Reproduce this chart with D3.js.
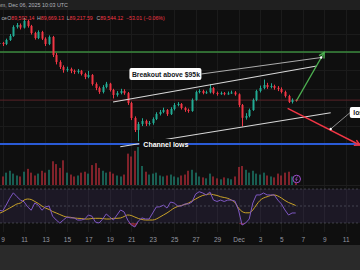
<!DOCTYPE html>
<html><head><meta charset="utf-8">
<script src="https://cdn.jsdelivr.net/npm/d3@7"></script>
<style>html,body{margin:0;padding:0;background:#0f0f0f;overflow:hidden}svg{display:block}</style>
</head><body><svg id="c" width="360" height="270"></svg>
<script>
// ---------- DATA ----------
const startTime = "2025-11-08T16:00:00Z";   // first candle
const stepHours = 8;                          // candle interval
const firstOpen = 101800;
const closes = [101950,101740,102610,103480,105440,105870,105300,106740,105650,104130,
 103040,104350,102900,101740,103260,99350,97830,96740,96090,96300,
 95870,95650,95900,95220,94570,95000,93040,92170,91300,92390,
 93100,91740,90650,91090,91520,91050,88910,85650,83040,84350,
 85000,84400,84570,85430,86520,86960,87390,86500,87610,88480,
 88700,87830,87400,87170,89570,91300,91520,91090,91250,92170,
 91100,90870,91050,90900,91000,91200,90800,88480,85700,86090,
 87390,89570,91520,92170,92830,92390,92610,92200,91960,91300,
 90440,89130,89600,89544];
const highs = [102300,102200,102900,103900,105800,106300,106200,107400,107000,105900,
 104400,104700,104600,103200,103600,103500,99800,98200,97100,96800,
 96600,96200,96300,96100,95500,95900,95200,93400,92500,92800,
 93500,93300,92000,91500,92000,91900,91300,89200,86000,84800,
 85600,85300,85000,85800,86900,87400,87900,87600,88000,88900,
 89100,88900,88100,87700,89900,91600,91900,91800,91600,93000,
 92400,91400,91400,91300,91400,91600,91500,91000,88700,86700,
 87700,89900,91800,92700,94000,93300,93200,92900,92600,92300,
 91600,90700,89900,89669];
const lows = [101400,101300,101500,102400,103300,105100,104900,105100,105300,103800,
 102700,102800,102600,101300,101500,98900,97300,96300,95500,95700,
 95400,95200,95300,94900,94100,94300,92700,91700,90900,91000,
 92100,91400,89900,90300,90800,90700,88500,85200,82600,80600,
 83900,83900,84000,84200,85200,86200,86700,86100,86300,87300,
 88200,87500,87000,86800,87000,89400,91000,90800,90900,91000,
 90800,90500,90700,90600,90700,90900,90500,88000,83800,85300,
 85800,87200,89300,91200,91900,92000,92100,91800,91500,91000,
 90100,88900,88800,89217];
const volumes = [1100,900,1300,1500,1200,1000,900,1400,1700,1300,
 1000,1200,1500,1300,1600,2500,2200,1800,2600,1300,
 1100,900,1000,1300,1400,1200,2100,2300,1800,1500,
 1300,1400,1200,1000,900,1100,3300,3000,3600,4000,
 2000,1400,1100,1200,1300,1000,900,1000,1100,900,
 800,1000,1100,1500,1600,1300,900,800,700,1200,
 900,700,600,800,700,600,900,1900,2000,1600,
 1300,1500,1200,1100,1300,1000,900,800,1200,1000,
 1300,1400,900,500];
const rsiValues = [45.3,44,51,59,65.5,61,57,55,49,45, 53.5,51,45,49,50,38,33.5,30,33.5,37,
 36,36,33.5,33.5,34.7,39.4,38,31,30,34.7, 40.6,37,33.5,39.4,45.3,43,33.5,27.6,25.3,32.4,
 36,34.7,34.7,41.8,48.8,49,51,47.6,54.7,53.5, 50,50,52.4,52.4,54.7,64,66.8,65.3,63,66.5,
 57,55.3,57,55.3,57,57,55.9,45.3,27.6,30, 34.7,53.5,63,63,65.3,63,63,63,57,52.4,
 45.3,39.4,41.8,41.8];
const rsiMA = [41.2,43,45.3,47.6,50,52.4,53.5,57,58.2,57.6, 55.3,53,50,47.6,45.9,43.5,41.8,40,38.2,37,
 36.7,35.9,35.5,35.3,34.7,34.7,35.3,35.5,35.5,35.3, 34.7,34.7,35.5,35.5,35.9,37.6,39.4,38.8,37,35.3,
 34.1,33.5,33.5,33.5,34.7,37,39.4,41.8,44.7,47.6, 49.4,50.6,51.8,53.5,55.9,58.2,60.6,62.4,63.5,64.1,
 63.3,62.4,60.9,60,59,57,54.1,47.6,43.5,42, 42,45.3,51.2,56.5,59.4,60.9,62.4,63,61.8,59.4,
 56.5,54.1,52.4,50.6];
const tickDates = ["2025-11-09","2025-11-11","2025-11-13","2025-11-15","2025-11-17","2025-11-19","2025-11-21",
 "2025-11-23","2025-11-25","2025-11-27","2025-11-29","2025-12-01","2025-12-03","2025-12-05","2025-12-07","2025-12-09","2025-12-11"];
const tickLabels = ["9","11","13","15","17","19","21","23","25","27","29","Dec","3","5","7","9","11"];
const gridPrices = [84000,88000,92000,96000,100000,104000];
const resistanceLevel = 100000;
const lastPrice = 89544.12;
const supportLevel = 80000;
const channelUpper = [["2025-11-19T07:10:00Z",89130],["2025-12-08T07:00:00Z",96960]];
const channelLower = [["2025-11-19T23:20:00Z",79410],["2025-12-09T14:20:00Z",86800]];
const bullArrow = [["2025-12-06T10:05:00Z",89460],["2025-12-08T23:45:00Z",99890]];
const bearArrow = [["2025-12-05T14:00:00Z",87760],["2025-12-12T07:30:00Z",79780]];
const breakoutCallout = [["2025-11-27T13:00:00Z",95220],["2025-12-08T17:00:00Z",98800]];
const lossCallout = [["2025-12-11T11:20:00Z",86960],["2025-12-09T14:20:00Z",83260]];
const headerText = "TradingView.com, Dec 06, 2025 10:03 UTC";
const ohlcLabels = ["O","H","L","C"];
const ohlcValues = ["89,592.14","89,669.13","89,217.59","89,544.12"];
const changeText = "\u221253.01 (\u22120.06%)";

// ---------- SCALES ----------
const svg = d3.select("#c");
const W = 360, H = 270;
const FONT = "Liberation Sans, Arial, sans-serif";
const x = d3.scaleUtc().domain([new Date("2025-11-09T00:00:00Z"), new Date("2025-12-01T00:00:00Z")]).range([2.6, 238.5]);
const y = d3.scaleLinear().domain([80000, 100000]).range([144, 52]);
const yv = d3.scaleLinear().domain([0, 4000]).range([185, 147]);
const yr = d3.scaleLinear().domain([30, 70]).range([223, 189]);
const UP = "#22ab94", DN = "#f23645";

const t0 = new Date(startTime);
const candles = closes.map((c, i) => ({
  t: d3.utcHour.offset(t0, i * stepHours), o: i ? closes[i-1] : firstOpen,
  h: highs[i], l: lows[i], c, v: volumes[i], r: rsiValues[i], m: rsiMA[i]
}));
const P = p => [x(new Date(p[0])), y(p[1])];

// ---------- BACKGROUND ----------
svg.append("rect").attr("width", W).attr("height", H).attr("fill", "#0f0f0f");
svg.append("rect").attr("width", W).attr("height", 10).attr("fill", "#202020");
svg.append("rect").attr("y", 245).attr("width", W).attr("height", 25).attr("fill", "#2a2a2a");

const defs = svg.append("defs");
defs.append("clipPath").attr("id", "main").append("rect").attr("x", 0).attr("y", 10).attr("width", W).attr("height", 175);

// grid
const grid = svg.append("g").attr("stroke", "#1b1b1b").attr("stroke-width", 1);
grid.selectAll("line.v").data(tickDates).join("line")
  .attr("x1", d => Math.round(x(new Date(d))) + 0.5).attr("x2", d => Math.round(x(new Date(d))) + 0.5)
  .attr("y1", 10).attr("y2", 232);
grid.selectAll("line.h").data(gridPrices).join("line")
  .attr("x1", 0).attr("x2", W).attr("y1", d => Math.round(y(d)) + 0.5).attr("y2", d => Math.round(y(d)) + 0.5);

const main = svg.append("g").attr("clip-path", "url(#main)");

// level lines
main.append("line").attr("x1", 0).attr("x2", W).attr("y1", y(lastPrice)).attr("y2", y(lastPrice))
  .attr("stroke", "#5a2228").attr("stroke-width", 1);
main.append("line").attr("x1", 0).attr("x2", W).attr("y1", y(resistanceLevel)).attr("y2", y(resistanceLevel))
  .attr("stroke", "#3b8a3e").attr("stroke-width", 1.6);
main.append("line").attr("x1", 0).attr("x2", W).attr("y1", y(supportLevel)).attr("y2", y(supportLevel))
  .attr("stroke", "#2a5bd7").attr("stroke-width", 1.8);

// volume
main.selectAll("rect.vol").data(candles).join("rect")
  .attr("x", d => Math.round(x(d.t)) - 1).attr("width", 2)
  .attr("y", d => yv(d.v)).attr("height", d => 185 - yv(d.v))
  .attr("fill", d => d.c >= d.o ? UP : DN).attr("opacity", 0.5);

// candles
const cg = main.append("g");
cg.selectAll("line").data(candles).join("line")
  .attr("x1", d => Math.round(x(d.t)) + 0.5).attr("x2", d => Math.round(x(d.t)) + 0.5)
  .attr("y1", d => y(d.h)).attr("y2", d => y(d.l))
  .attr("stroke", d => d.c >= d.o ? UP : DN).attr("stroke-width", 1);
cg.selectAll("rect").data(candles).join("rect")
  .attr("x", d => Math.round(x(d.t)) - 0.5).attr("width", 2)
  .attr("y", d => Math.min(y(d.o), y(d.c))).attr("height", d => Math.max(1, Math.abs(y(d.o) - y(d.c))))
  .attr("fill", d => d.c >= d.o ? UP : DN);

// channel lines
const line2 = (pts, color, w) => main.append("line")
  .attr("x1", P(pts[0])[0]).attr("y1", P(pts[0])[1]).attr("x2", P(pts[1])[0]).attr("y2", P(pts[1])[1])
  .attr("stroke", color).attr("stroke-width", w);
line2(channelUpper, "#d8d8d8", 1.1);
line2(channelLower, "#d8d8d8", 1.1);
line2(breakoutCallout, "#bdbdbd", 0.9);
line2(lossCallout, "#9a9a9a", 0.9);

// arrows
function arrow(pts, color) {
  const [a, b] = [P(pts[0]), P(pts[1])];
  line2(pts, color, 1.4);
  const ang = Math.atan2(b[1] - a[1], b[0] - a[0]), L = 6, s = 0.5;
  const p1 = [b[0] - L * Math.cos(ang - s), b[1] - L * Math.sin(ang - s)];
  const p2 = [b[0] - L * Math.cos(ang + s), b[1] - L * Math.sin(ang + s)];
  main.append("path").attr("d", `M${p1}L${b}L${p2}`).attr("fill", "none").attr("stroke", color).attr("stroke-width", 1.4);
}
arrow(bullArrow, "#4caf50");
arrow(bearArrow, "#f23645");

// callout dots
[breakoutCallout[1], lossCallout[1]].forEach(p => {
  main.append("circle").attr("cx", P(p)[0]).attr("cy", P(p)[1]).attr("r", 1.2).attr("fill", "#ffffff");
});

// labels
const bo = P(breakoutCallout[0]);
main.append("rect").attr("x", bo[0] - 72).attr("y", bo[1] - 6).attr("width", 72).attr("height", 12).attr("rx", 2).attr("fill", "#ffffff");
main.append("text").attr("x", bo[0] - 69.5).attr("y", bo[1] + 2.6).text("Breakout above $95k")
  .attr("font-family", FONT).attr("font-weight", "bold").attr("font-size", 6.8).attr("fill", "#131722");

const lo = P(lossCallout[0]);
main.append("rect").attr("x", lo[0] - 1).attr("y", lo[1] - 5).attr("width", 40).attr("height", 11).attr("rx", 2).attr("fill", "#ffffff");
main.append("text").attr("x", lo[0] + 2.5).attr("y", lo[1] + 3).text("loses $89k")
  .attr("font-family", FONT).attr("font-weight", "bold").attr("font-size", 6.8).attr("fill", "#131722");

const chX = x(new Date("2025-11-22T03:00:00Z"));
main.append("rect").attr("x", chX - 4).attr("y", y(supportLevel) - 5).attr("width", 47).attr("height", 10).attr("fill", "#0f0f0f");
main.append("text").attr("x", chX).attr("y", y(supportLevel) + 2.6).text("Channel lows")
  .attr("font-family", FONT).attr("font-weight", "bold").attr("font-size", 7).attr("fill", "#ffffff");

// purple event icon
const ic = [x(candles[candles.length - 1].t) + 1, 179];
main.append("circle").attr("cx", ic[0]).attr("cy", ic[1]).attr("r", 3.8).attr("fill", "#0f0f0f").attr("stroke", "#9c4dcc").attr("stroke-width", 1);
main.append("path").attr("d", `M${ic[0]+0.8},${ic[1]-2.4}L${ic[0]-1.2},${ic[1]+0.3}L${ic[0]+0.5},${ic[1]+0.3}L${ic[0]-0.8},${ic[1]+2.4}`)
  .attr("fill", "none").attr("stroke", "#9c4dcc").attr("stroke-width", 0.8);

// pane separator
svg.append("line").attr("x1", 0).attr("x2", W).attr("y1", 185.5).attr("y2", 185.5).attr("stroke", "#1e1e1e");

// ---------- RSI ----------
svg.append("rect").attr("x", 0).attr("width", W).attr("y", yr(70)).attr("height", yr(30) - yr(70)).attr("fill", "#7e57c2").attr("opacity", 0.12);
svg.selectAll("line.rl").data([70, 50, 30]).join("line")
  .attr("x1", 0).attr("x2", W).attr("y1", d => yr(d)).attr("y2", d => yr(d))
  .attr("stroke", "#787b86").attr("stroke-opacity", 0.55).attr("stroke-dasharray", "2,2").attr("stroke-width", 0.8);
svg.append("path").datum(candles)
  .attr("d", d3.area().x(d => x(d.t)).y0(yr(30)).y1(d => yr(Math.min(d.r, 30))))
  .attr("fill", "#f23645").attr("opacity", 0.45);
svg.append("path").datum(candles).attr("d", d3.line().x(d => x(d.t)).y(d => yr(d.m)).curve(d3.curveMonotoneX))
  .attr("fill", "none").attr("stroke", "#c9a227").attr("stroke-width", 1);
svg.append("path").datum(candles).attr("d", d3.line().x(d => x(d.t)).y(d => yr(d.r)))
  .attr("fill", "none").attr("stroke", "#7e57c2").attr("stroke-width", 1);

// ---------- X AXIS ----------
const ax = svg.append("g").attr("transform", "translate(0,234)")
  .call(d3.axisBottom(x).tickValues(tickDates.map(d => new Date(d + "T00:00:00Z")))
    .tickFormat((d, i) => tickLabels[i]).tickSize(0).tickPadding(3));
ax.select(".domain").remove();
ax.selectAll("text").attr("fill", "#9598a1").attr("font-size", 6.5).attr("font-family", FONT);

// ---------- HEADER ----------
svg.append("text").attr("x", 68).attr("y", 7).attr("text-anchor", "end").text(headerText)
  .attr("font-family", FONT).attr("font-size", 5.4).attr("fill", "#b2b5be");
const ohlc = svg.append("text").attr("y", 19.5).attr("font-family", FONT).attr("font-size", 5.2);
ohlc.append("tspan").attr("x", 1.5).attr("fill", "#b2b5be").text("ce");
const ohlcX = [7.3, 37, 66.7, 96.4];
ohlcLabels.forEach((l, i) => {
  ohlc.append("tspan").attr("x", ohlcX[i]).attr("fill", "#b2b5be").text(l);
  ohlc.append("tspan").attr("fill", "#f23645").text(ohlcValues[i]);
});
ohlc.append("tspan").attr("x", 126).attr("fill", "#f23645").text(changeText);
</script></body></html>
